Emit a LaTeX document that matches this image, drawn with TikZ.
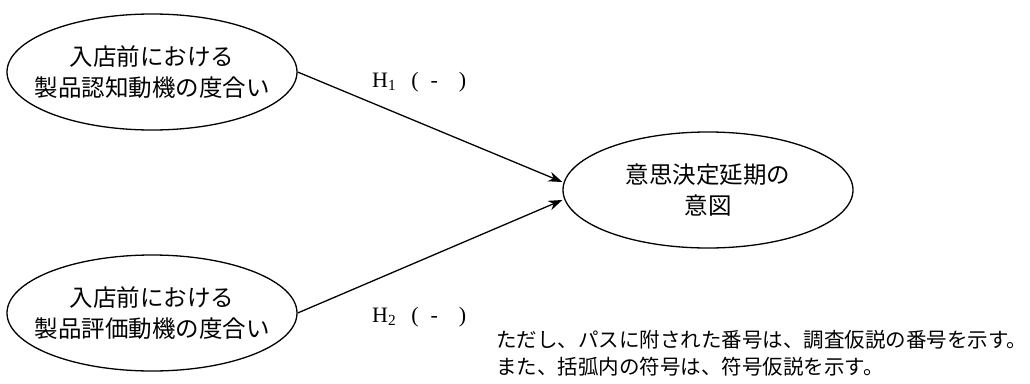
\documentclass[tikz,border=0pt]{standalone}
\usepackage{fontspec}
\setmainfont{Liberation Serif}
\newfontfamily\jp{Noto Sans CJK JP}
\usetikzlibrary{shapes.geometric,arrows.meta}
\tikzset{
  factor/.style={draw, ellipse, line width=1.3pt, inner ysep=0pt, inner xsep=-70pt,
    minimum width=290pt, minimum height=116pt, align=center,
    font=\jp\fontsize{23.5}{31}\selectfont},
  path/.style={line width=1.3pt, -{Stealth[length=14pt,width=10pt]}},
  hlabel/.style={font=\fontsize{22}{24}\selectfont, inner sep=0pt, anchor=base west},
  note/.style={font=\jp\fontsize{20.5}{27}\selectfont, align=left, anchor=north west, inner sep=0pt}
}
\begin{document}
\begin{tikzpicture}[x=1pt,y=-1pt]
\useasboundingbox (0,0) rectangle (1030,383);
\node[factor] (a) at (152,72) {入店前における\\製品認知動機の度合い};
\node[factor] (b) at (152,313) {入店前における\\製品評価動機の度合い};
\node[factor] (c) at (708,190) {意思決定延期の\\意図};
\draw[path] (a.east) -- ([yshift=8pt]c.west);
\draw[path] (b.east) -- ([yshift=-10pt]c.west);
\node[hlabel] (h1) at (372,87) {H\textsubscript{1}\hspace{15pt}(\hspace{12pt}-\hspace{21pt})};
\node[hlabel] (h2) at (372,322) {H\textsubscript{2}\hspace{15pt}(\hspace{12pt}-\hspace{21pt})};
\node[note] (n) at (496,330) {ただし、パスに附された番号は、調査仮説の番号を示す。\\また、括弧内の符号は、符号仮説を示す。};
\end{tikzpicture}
\end{document}
